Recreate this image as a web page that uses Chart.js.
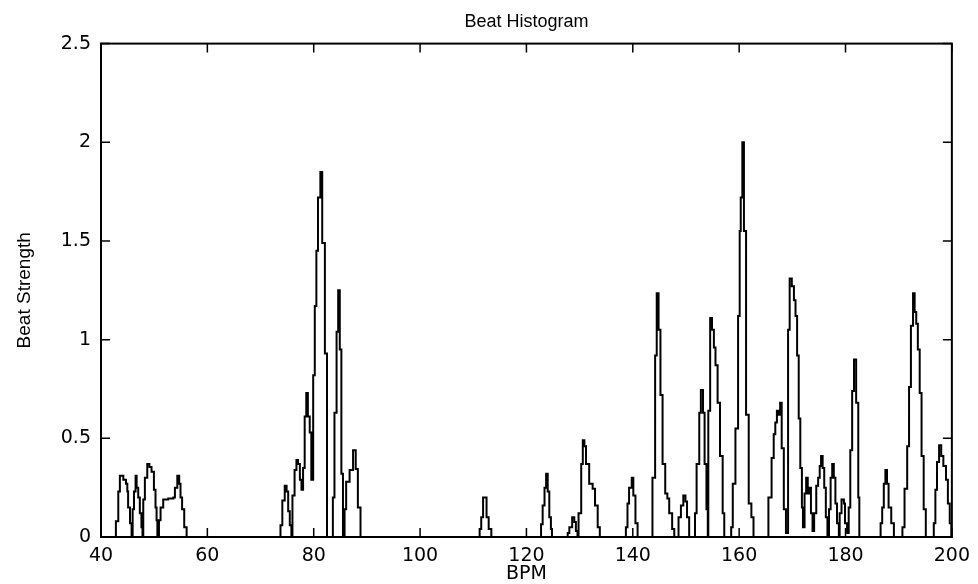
<!DOCTYPE html>
<html>
<head>
<meta charset="utf-8">
<title>Beat Histogram</title>
<script src="https://cdn.jsdelivr.net/npm/chart.js@4.4.0/dist/chart.umd.min.js"></script>
<style>
    html, body { margin: 0; padding: 0; background: #fff; }
    #wrap { width: 978px; height: 584px; }
</style>
</head>
<body>
<div id="wrap"><canvas id="beatChart"></canvas></div>
<script>
// ===============================
// DATA
// ===============================
// each value holds from its BPM until the next BPM (stairs plot)
const bpm = [
    40,
    42.8, 43.25, 43.55, 44.2, 44.7, 44.95, 45.1, 45.45, 45.75, 45.95, 46.2, 46.5, 46.7, 47.0, 47.3, 47.6, 47.8, 47.95, 48.25, 48.7,
    49.1, 49.5, 49.95, 50.25, 50.45, 50.6, 50.9, 51.2, 51.7, 52.65, 53.6, 53.9, 54.35, 54.7, 54.95, 55.25, 55.65, 56.1,
    73.75, 74.1, 74.55, 74.9, 75.2, 75.5, 75.8, 76.0, 76.4, 76.75, 77.05, 77.4, 77.7, 78.0, 78.3, 78.6, 78.9, 79.25, 79.55, 79.9,
    80.2, 80.5, 80.8, 81.25, 81.6, 82.1, 82.5, 83.6, 83.9, 84.3, 84.6, 84.9, 85.2, 85.5, 85.8, 86.1, 86.75, 87.4, 87.9, 88.3, 88.8,
    111.2, 111.5, 111.85, 112.5, 112.9, 113.4,
    122.75, 123.05, 123.4, 123.7, 124.0, 124.3, 124.6, 124.8,
    127.76, 128.07, 128.6, 129.0, 129.3, 129.6, 129.8, 130.3, 130.6, 130.9, 131.2, 131.8, 132.45, 132.9, 133.4, 133.8,
    138.7, 139.0, 139.3, 139.8, 140.1, 140.5, 140.9,
    143.7, 144.2, 144.5, 144.85, 145.2, 145.6, 146.1, 146.5, 146.85, 147.4, 147.8,
    148.6, 149.05, 149.5, 149.9, 150.2, 150.6,
    151.7, 152.0, 152.5, 152.8, 153.2, 153.5, 153.85, 154.1,
    154.2, 154.55, 154.9, 155.25, 155.55, 155.95, 156.4, 156.9, 157.2,
    158.5, 158.8, 159.3, 159.8, 160.1, 160.3, 160.6, 160.9, 161.3, 161.8, 162.3, 162.7,
    165.5, 166.1, 166.5, 166.8, 167.1, 167.4, 167.7, 168.0, 168.4, 168.8, 169.2, 169.5, 169.9, 170.3, 170.6, 170.9, 171.2, 171.5, 171.8, 172.0,
    172.3, 172.6, 172.9, 173.2, 173.5, 173.8, 174.1, 174.5, 174.85, 175.15, 175.4, 175.7, 176.0, 176.3, 176.6, 176.9, 177.2, 177.5, 177.8, 178.1,
    178.4, 178.75, 178.9, 179.25, 179.7, 179.9, 180.3, 180.6, 180.9, 181.25, 181.6, 182.0, 182.4, 182.6,
    186.6, 186.9, 187.2, 187.5, 187.8, 188.1, 188.6, 189.1,
    190.7, 191.1, 191.6, 191.95, 192.3, 192.7, 193.0, 193.3, 193.6, 193.95, 194.3, 194.7, 195.1,
    196.6, 196.9, 197.2, 197.6, 198.0, 198.4, 198.9, 199.25, 199.6, 199.9, 200
];

const strength = [
    0,
    0.08, 0.23, 0.31, 0.29, 0.27, 0.23, 0.15, 0.07, 0.01, 0.14, 0.23, 0.31, 0.25, 0.2, 0.12, 0.05, 0.01, 0.19, 0.3, 0.37,
    0.355, 0.33, 0.24, 0.15, 0.085, 0.01, 0.085, 0.15, 0.19, 0.195, 0.2, 0.25, 0.31, 0.27, 0.2, 0.14, 0.05, 0,
    0.06, 0.185, 0.26, 0.23, 0.13, 0.06, 0.01, 0.21, 0.34, 0.39, 0.37, 0.29, 0.24, 0.35, 0.61, 0.73, 0.61, 0.53, 0.29, 0.82,
    1.17, 1.45, 1.72, 1.85, 1.49, 0.93, 0, 0.2, 0.63, 1.04, 1.25, 0.95, 0.32, 0, 0.14, 0.28, 0.34, 0.44, 0.345, 0.15, 0,
    0.04, 0.1, 0.2, 0.1, 0.04, 0,
    0.065, 0.16, 0.25, 0.32, 0.23, 0.1, 0.04, 0,
    0.02, 0.05, 0.10, 0.076, 0.03, 0, 0.12, 0.37, 0.49, 0.46, 0.37, 0.27, 0.245, 0.16, 0.05, 0,
    0.05, 0.17, 0.25, 0.30, 0.21, 0.07, 0,
    0.30, 0.92, 1.235, 1.05, 0.72, 0.37, 0.22, 0.195, 0.12, 0.04, 0,
    0.1, 0.16, 0.21, 0.18, 0.1, 0,
    0.12, 0.37, 0.63, 0.745, 0.63, 0.37, 0.14, 0,
    0.64, 1.11, 1.05, 0.96, 0.87, 0.68, 0.41, 0.12, 0,
    0.05, 0.27, 0.55, 1.12, 1.55, 1.72, 2.0, 1.55, 0.62, 0.17, 0.1, 0,
    0.2, 0.4, 0.52, 0.58, 0.64, 0.62, 0.68, 0.45, 0.14, 0.02, 1.05, 1.31, 1.27, 1.2, 1.12, 0.92, 0.6, 0.35, 0.15, 0.05,
    0.22, 0.3, 0.22, 0.25, 0.12, 0.03, 0.12, 0.26, 0.3, 0.36, 0.41, 0.35, 0.25, 0.1, 0, 0.14, 0.3, 0.37, 0.3, 0.17,
    0.07, 0.01, 0.12, 0.19, 0.17, 0.07, 0.02, 0.15, 0.44, 0.74, 0.9, 0.68, 0.2, 0,
    0.07, 0.15, 0.27, 0.34, 0.27, 0.15, 0.07, 0,
    0.05, 0.245, 0.46, 0.76, 1.07, 1.235, 1.14, 1.08, 0.95, 0.73, 0.41, 0.14, 0,
    0.07, 0.24, 0.38, 0.465, 0.41, 0.36, 0.29, 0.17, 0.07, 0, 0
];

// tick labels
const bpmTicks = [40, 60, 80, 100, 120, 140, 160, 180, 200];
const strengthTicks = [0, 0.5, 1, 1.5, 2, 2.5];

if (bpm.length !== strength.length) {
    throw new Error("bpm/strength length mismatch: " + bpm.length + " vs " + strength.length);
}

const points = bpm.map((x, i) => ({ x: x, y: strength[i] }));

// ===============================
// MATLAB style box + inward ticks
// ===============================
const TICK_LEN = 9;

const matlabBox = {
    id: "matlabBox",
    afterDatasetsDraw(chart) {
        const { ctx, chartArea: a, scales } = chart;
        ctx.save();
        ctx.strokeStyle = "#000";
        ctx.lineWidth = 1.5;
        ctx.beginPath();
        bpmTicks.forEach(v => {
            const px = scales.x.getPixelForValue(v);
            ctx.moveTo(px, a.bottom);
            ctx.lineTo(px, a.bottom - TICK_LEN);
            ctx.moveTo(px, a.top);
            ctx.lineTo(px, a.top + TICK_LEN);
        });
        strengthTicks.forEach(v => {
            const py = scales.y.getPixelForValue(v);
            ctx.moveTo(a.left, py);
            ctx.lineTo(a.left + TICK_LEN, py);
            ctx.moveTo(a.right, py);
            ctx.lineTo(a.right - TICK_LEN, py);
        });
        ctx.stroke();
        ctx.lineWidth = 2;
        ctx.strokeRect(a.left, a.top, a.right - a.left, a.bottom - a.top);
        ctx.restore();
    }
};

const tickFont = { family: "DejaVu Sans", size: 19 };
const labelFont = { family: "Liberation Sans Narrow, Liberation Sans", size: 19 };

// ------- CREATE CHART -------
new Chart(document.getElementById("beatChart"), {
    type: "line",
    data: {
        datasets: [{
            label: "Beat Strength",
            data: points,
            borderColor: "#000",
            borderWidth: 2,
            pointRadius: 0,
            stepped: true,
            fill: false
        }]
    },
    options: {
        responsive: true,
        maintainAspectRatio: false,
        animation: false,
        layout: { padding: { top: 0, right: 25, bottom: 0, left: 0 } },
        plugins: {
            legend: { display: false },
            tooltip: { enabled: false },
            title: {
                display: true,
                text: "Beat Histogram",
                color: "#000",
                fullSize: false,
                font: { family: labelFont.family, size: 18, weight: "normal" },
                padding: { top: 11, bottom: 11 }
            }
        },
        scales: {
            x: {
                type: "linear",
                min: 40,
                max: 200,
                afterBuildTicks: s => { s.ticks = bpmTicks.map(v => ({ value: v })); },
                afterFit: s => { s.height = 47; },
                grid: { display: false, drawTicks: false },
                border: { display: false },
                ticks: { color: "#000", font: tickFont, padding: 8, maxRotation: 0, autoSkip: false },
                title: {
                    display: true,
                    text: "BPM",
                    color: "#000",
                    font: { family: "DejaVu Sans", size: 19, lineHeight: 1 },
                    padding: { top: 0, bottom: 0 }
                }
            },
            y: {
                min: 0,
                max: 2.5,
                afterBuildTicks: s => { s.ticks = strengthTicks.map(v => ({ value: v })); },
                afterFit: s => { s.width = 101; },
                grid: { display: false, drawTicks: false },
                border: { display: false },
                ticks: { color: "#000", font: tickFont, padding: 10, callback: v => String(v) },
                title: {
                    display: true,
                    text: "Beat Strength",
                    color: "#000",
                    font: labelFont,
                    padding: { top: 13, bottom: 0 }
                }
            }
        }
    },
    plugins: [matlabBox]
});
</script>
</body>
</html>
